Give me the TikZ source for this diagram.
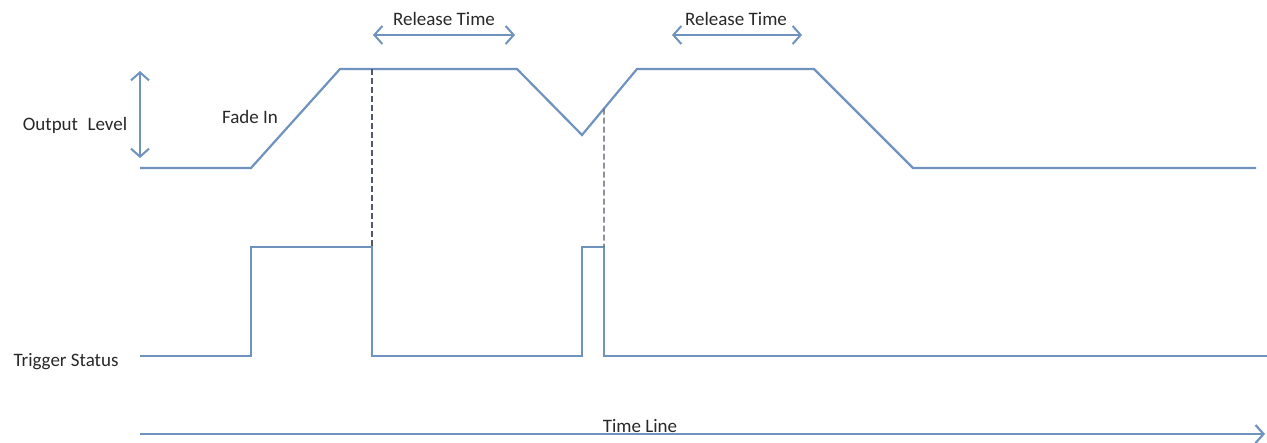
\documentclass[tikz,border=0pt]{standalone}
\usepackage{fontspec}
\setmainfont{Carlito}
\usepackage{tikz}
\usetikzlibrary{calc,arrows.meta}
\definecolor{wave}{RGB}{112,146,190}
\definecolor{ink}{RGB}{40,40,40}
\definecolor{guide}{RGB}{80,88,105}

\begin{document}
\begin{tikzpicture}[x=1pt,y=-1pt,
    sig/.style={wave,line width=2.2pt,line join=miter},
    dimarrow/.style={wave,line width=2pt,{Straight Barb[length=8pt,width=18pt]}-{Straight Barb[length=8pt,width=18pt]}},
    guideline/.style={guide,line width=1.2pt,dash pattern=on 6pt off 3pt},
    lbl/.style={ink,font=\fontsize{19}{22}\selectfont,inner sep=0pt}]
    \useasboundingbox (0,0) rectangle (1267,442);
    % output level
    \coordinate (o0) at (140,168);
    \coordinate (o1) at (251,168);
    \coordinate (o2) at (340,69);
    \coordinate (o3) at (517,69);
    \coordinate (o4) at (582,135);
    \coordinate (o5) at (637,69);
    \coordinate (o6) at (814,69);
    \coordinate (o7) at (913,168);
    \coordinate (o8) at (1256,168);
    \draw[sig] (o0) -- (o1) -- (o2) -- (o3) -- (o4) -- (o5) -- (o6) -- (o7) -- (o8);
    % trigger status
    \coordinate (t0) at (140,356);
    \coordinate (t1) at (251,356);
    \coordinate (t2) at (251,247);
    \coordinate (t3) at (372,247);
    \coordinate (t4) at (372,356);
    \coordinate (t5) at (582,356);
    \coordinate (t6) at (582,247);
    \coordinate (t7) at (604,247);
    \coordinate (t8) at (604,356);
    \coordinate (t9) at (1267,356);
    \draw[sig] (t0) -- (t1) -- (t2) -- (t3) -- (t4) -- (t5) -- (t6) -- (t7) -- (t8) -- (t9);
    % trigger off
    \coordinate (d1) at (372,69);
    \coordinate (d2) at ($(o4)!0.4!(o5)$);
    \draw[guideline] (d1) -- (t3);
    \draw[guideline] (d2) -- (t7);
    % arrows
    \coordinate (lv0) at (140,71);
    \coordinate (lv1) at (140,158);
    \draw[dimarrow] (lv0) -- (lv1);
    \coordinate (r1a) at (373,35);
    \coordinate (r1b) at (515,35);
    \draw[dimarrow] (r1a) -- (r1b);
    \coordinate (r2a) at (672,35);
    \coordinate (r2b) at (802,35);
    \draw[dimarrow] (r2a) -- (r2b);
    \coordinate (tl0) at (140,434);
    \coordinate (tl1) at (1265,434);
    \draw[wave,line width=2.2pt,-{Straight Barb[length=8pt,width=18pt]}] (tl0) -- (tl1);
    % labels
    \node[lbl] (rel1) at (444,19) {Release Time};
    \node[lbl] (rel2) at (736,19) {Release Time};
    \node[lbl] (fade) at (250,117) {Fade In};
    \node[lbl] (outlvl) at (75,125) {Output\hspace{0.5em}Level};
    \node[lbl] (trig) at (66,362) {Trigger Status};
    \node[lbl] (time) at (640,426) {Time Line};
\end{tikzpicture}
\end{document}
